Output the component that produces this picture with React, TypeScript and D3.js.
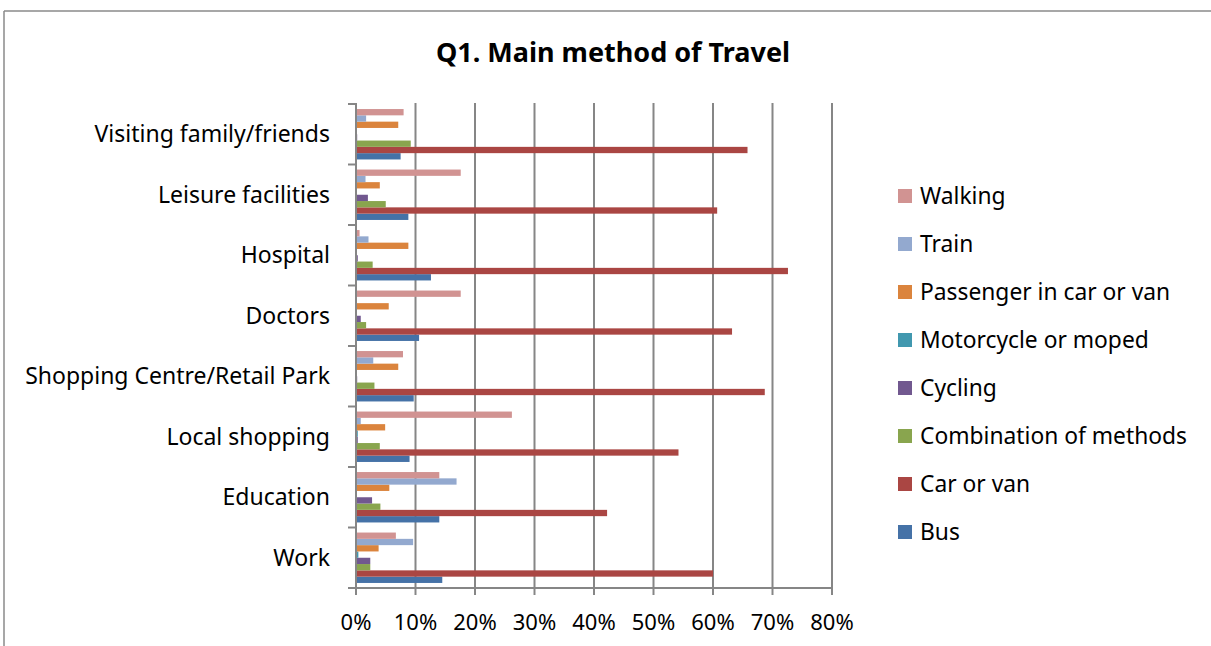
import React from "react";
import * as d3 from "d3";

const categories = [
  "Work",
  "Education",
  "Local shopping",
  "Shopping Centre/Retail Park",
  "Doctors",
  "Hospital",
  "Leisure facilities",
  "Visiting family/friends",
];

const seriesNames = [
  "Bus",
  "Car or van",
  "Combination of methods",
  "Cycling",
  "Motorcycle or moped",
  "Passenger in car or van",
  "Train",
  "Walking",
];

const seriesColors = [
  "#4572A7",
  "#AA4643",
  "#89A54E",
  "#71588F",
  "#4198AF",
  "#DB843D",
  "#93A9CF",
  "#D19392",
];

// values in %, ordered as categories
const bus = [14.5, 14.0, 9.0, 9.7, 10.6, 12.6, 8.8, 7.5];
const carOrVan = [60.0, 42.2, 54.2, 68.7, 63.2, 72.6, 60.7, 65.8];
const combination = [2.4, 4.1, 4.0, 3.1, 1.7, 2.8, 5.0, 9.2];
const cycling = [2.4, 2.7, 0.3, 0.2, 0.8, 0.3, 2.0, 0.2];
const motorcycle = [0.4, 0.0, 0.3, 0.0, 0.0, 0.0, 0.0, 0.0];
const passenger = [3.8, 5.6, 4.9, 7.1, 5.5, 8.8, 4.0, 7.1];
const train = [9.6, 16.9, 0.8, 2.9, 0.0, 2.1, 1.6, 1.7];
const walking = [6.7, 14.0, 26.2, 7.9, 17.6, 0.6, 17.6, 8.0];

const seriesValues = [bus, carOrVan, combination, cycling, motorcycle, passenger, train, walking];

const xTicks = [0, 10, 20, 30, 40, 50, 60, 70, 80];

const FONT = "'Noto Sans', 'Open Sans', sans-serif";

export default function App() {
  const W = 1211;
  const H = 646;
  const left = 356;
  const right = 832;
  const top = 104;
  const bottom = 588;

  const x = d3.scaleLinear().domain([0, 80]).range([left, right]);
  const y = d3
    .scaleBand<string>()
    .domain(categories)
    .range([bottom, top])
    .paddingInner(0)
    .paddingOuter(0);
  const inner = d3
    .scaleBand<string>()
    .domain(seriesNames.slice().reverse())
    .range([0, y.bandwidth()])
    .paddingInner(0)
    .paddingOuter(0.8);

  const gridColor = "#868686";
  const boundaries = d3.range(categories.length + 1).map((i) => bottom - i * y.step());

  const legendOrder = seriesNames.map((_, i) => i).reverse();

  return (
    <svg
      width={W}
      height={H}
      style={{ position: "absolute", left: 0, top: 0, background: "#fff" }}
      fontFamily={FONT}
    >
      <rect x={0} y={0} width={W} height={H} fill="#fff" />
      <line x1={4} y1={11} x2={W} y2={11} stroke="#8a8a8a" strokeWidth={1.5} />
      <line x1={4} y1={11} x2={4} y2={H} stroke="#8a8a8a" strokeWidth={1.5} />

      <text x={613} y={62} textAnchor="middle" fontSize={27} fontWeight="bold" fill="#000">
        Q1. Main method of Travel
      </text>

      {xTicks.slice(1).map((t) => (
        <line key={"g" + t} x1={x(t)} x2={x(t)} y1={top - 1} y2={bottom} stroke={gridColor} strokeWidth={2} />
      ))}

      {seriesNames.map((s, si) => (
        <g key={s} fill={seriesColors[si]}>
          {categories.map((c, ci) => {
            const v = seriesValues[si][ci];
            if (v <= 0) return null;
            return (
              <rect
                key={c}
                x={x(0)}
                y={(y(c) as number) + (inner(s) as number)}
                width={x(v) - x(0)}
                height={inner.bandwidth()}
              />
            );
          })}
        </g>
      ))}

      <line x1={left} x2={left} y1={top - 1} y2={bottom} stroke={gridColor} strokeWidth={2} />
      {boundaries.map((b, i) => (
        <line key={"yt" + i} x1={left - 8} x2={left} y1={b} y2={b} stroke={gridColor} strokeWidth={2} />
      ))}
      <line x1={left} x2={right} y1={bottom} y2={bottom} stroke={gridColor} strokeWidth={2} />
      {xTicks.map((t) => (
        <line key={"xt" + t} x1={x(t)} x2={x(t)} y1={bottom} y2={bottom + 7} stroke={gridColor} strokeWidth={2} />
      ))}

      {xTicks.map((t) => (
        <text key={"xl" + t} x={x(t)} y={630} textAnchor="middle" fontSize={22} fill="#000">
          {t + "%"}
        </text>
      ))}

      {categories.map((c) => (
        <text
          key={"cl" + c}
          x={330}
          y={(y(c) as number) + y.bandwidth() / 2 + 8}
          textAnchor="end"
          fontSize={23}
          fill="#000"
        >
          {c}
        </text>
      ))}

      {legendOrder.map((si, k) => {
        const cy = 196 + k * 48;
        return (
          <g key={"lg" + si}>
            <rect x={898} y={cy - 7} width={14} height={14} fill={seriesColors[si]} />
            <text x={920} y={cy + 8} fontSize={22.8} fill="#000">
              {seriesNames[si]}
            </text>
          </g>
        );
      })}
    </svg>
  );
}
